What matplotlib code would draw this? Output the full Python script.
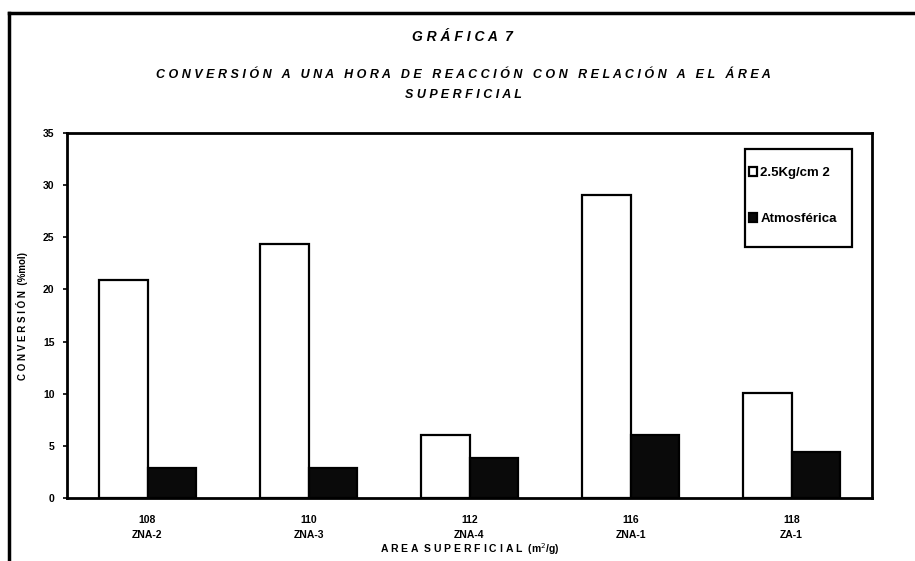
import matplotlib
matplotlib.use("Agg")
import matplotlib.pyplot as plt
import numpy as np
from matplotlib.lines import Line2D
from matplotlib.patches import Rectangle

areas = ["108", "110", "112", "116", "118"]
samples = ["ZNA-2", "ZNA-3", "ZNA-4", "ZNA-1", "ZA-1"]
presion = [20.9, 24.4, 6.0, 29.1, 10.1]
atmosferica = [2.9, 2.9, 3.8, 6.0, 4.4]

plt.rcParams['font.family'] = ['Liberation Sans', 'DejaVu Sans']

fig = plt.figure(figsize=(9.15, 5.61), dpi=100)
W, H = 915, 561
AX_L, AX_R, AX_T, AX_B = 67, 872, 133, 498
ax = fig.add_axes([AX_L / W, 1 - AX_B / H, (AX_R - AX_L) / W, (AX_B - AX_T) / H])


def axx(px):
    return (px - AX_L) / (AX_R - AX_L)


def axy(py):
    return (AX_B - py) / (AX_B - AX_T)


x = np.arange(len(areas))
w = 0.3
ax.bar(x - w / 2, presion, width=w, color='white', edgecolor='black', linewidth=1.6,
       label='2.5Kg/cm 2')
ax.bar(x + w / 2, atmosferica, width=w, color='#0a0a0a', edgecolor='black', linewidth=1.6,
       label='Atmosférica')

ax.set_xlim(-0.5, len(areas) - 0.5)
ax.set_ylim(0, 35)
ax.set_yticks(range(0, 36, 5))
ax.set_yticklabels([str(v) for v in range(0, 36, 5)], fontsize=7.5, fontweight='bold')
ax.set_xticks(x)
ax.set_xticklabels([f"{a}\n{s}" for a, s in zip(areas, samples)], fontsize=7.5,
                   fontweight='bold', linespacing=1.7)
ax.tick_params(axis='x', length=0, pad=12)
ax.tick_params(axis='y', length=3, width=1.2, direction='out', pad=6)
for s in ax.spines.values():
    s.set_linewidth(2)
    s.set_color('black')

ax.set_ylabel("C O N V E R S I Ó N  (%mol)", fontsize=7, fontweight='bold')
ax.yaxis.set_label_coords(axx(28), 0.5)
ax.set_xlabel("A R E A  S U P E R F I C I A L  (m$^2$/g)", fontsize=7.5, fontweight='bold')
ax.xaxis.set_label_coords(0.5, axy(549))
ax.xaxis.label.set_va('center')

leg = ax.legend(loc='upper left', bbox_to_anchor=(axx(749), axy(167)),
                frameon=False, prop={'weight': 'bold', 'size': 9.5},
                handlelength=0.6, handleheight=0.6, handletextpad=0.25, labelspacing=2.6,
                borderpad=0, borderaxespad=0)
ax.add_patch(Rectangle((axx(745), axy(247)), axx(852) - axx(745), axy(149) - axy(247),
                       transform=ax.transAxes, fill=False, edgecolor='black', linewidth=1.6,
                       zorder=5))

fig.text(462 / W, 1 - 37 / H, "G R Á F I C A  7", ha='center', va='center', fontsize=10,
         fontweight='bold', fontstyle='italic')
fig.text(463 / W, 1 - 75 / H,
         "C O N V E R S I Ó N   A   U N A   H O R A   D E   R E A C C I Ó N   C O N   R E L A C I Ó N   A   E L   Á R E A",
         ha='center', va='center', fontsize=9, fontweight='bold', fontstyle='italic')
fig.text(463 / W, 1 - 95 / H, "S U P E R F I C I A L", ha='center', va='center', fontsize=9,
         fontweight='bold', fontstyle='italic')

fig.add_artist(Line2D([9 / W, 1.0], [1 - 13 / H, 1 - 13 / H], color='black', linewidth=2.5,
                      transform=fig.transFigure))
fig.add_artist(Line2D([9 / W, 9 / W], [1 - 13 / H, 0], color='black', linewidth=2.5,
                      transform=fig.transFigure))

fig.savefig("out.png", dpi=100)
